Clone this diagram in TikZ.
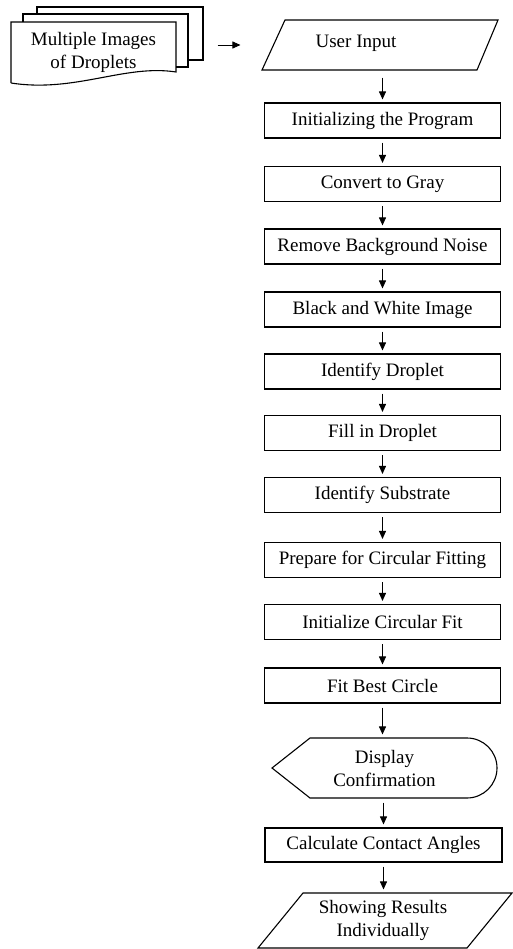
\documentclass[tikz,border=0pt]{standalone}
\usepackage{fontspec}
\setmainfont{Liberation Serif}
\usetikzlibrary{arrows.meta,calc}
\begin{document}
\begin{tikzpicture}[x=1pt,y=-1pt,
  line width=1.1pt,
  every node/.style={font=\fontsize{19}{23}\selectfont, inner sep=0pt, align=center},
  stepbox/.style={draw, minimum width=236.5pt, minimum height=35pt},
  flow/.style={-{Triangle[length=8pt,width=7pt]}, line width=0.9pt, shorten <=4pt, shorten >=3pt},
  hidden/.style={draw=none}
]
\useasboundingbox (0,0) rectangle (512,949);

% stack of document sheets
\draw (37,14) -- (37,7) -- (203,7) -- (203,60) -- (188,60);
\draw (23,22) -- (23,14) -- (188,14) -- (188,67) -- (176,67);
\draw (11,83) -- (11,22) -- (176,22) -- (176,72)
      .. controls (125,64) and (75,93) .. (11,83);
\node[hidden, minimum width=165pt, minimum height=61pt] (docs) at (93.5,52.5) {Multiple Images\\of Droplets};

% user input (parallelogram)
\draw (262,70) -- (285,20) -- (498,20) -- (477,70) -- cycle;
\node[hidden, minimum width=215pt, minimum height=50pt] (input) at (380,45) {};
\node at (356,43) {User Input};

% process steps
\node[stepbox] (init)  at (382.5,120.5) {Initializing the Program};
\node[stepbox] (gray)  at (382.5,184)   {Convert to Gray};
\node[stepbox] (noise) at (382.5,246.5) {Remove Background Noise};
\node[stepbox] (bw)    at (382.5,309.5) {Black and White Image};
\node[stepbox] (drop)  at (382.5,371.5) {Identify Droplet};
\node[stepbox] (fill)  at (382.5,433)   {Fill in Droplet};
\node[stepbox] (subs)  at (382.5,495)   {Identify Substrate};
\node[stepbox] (prep)  at (382.5,560)   {Prepare for Circular Fitting};
\node[stepbox] (cfit)  at (382.5,622)   {Initialize Circular Fit};
\node[stepbox] (best)  at (382.5,685.5) {Fit Best Circle};

% display shape
\draw (272,768) -- (310,738) -- (467,738) arc[start angle=-90, end angle=90, radius=30] -- (310,798) -- cycle;
\node[hidden, minimum width=225pt, minimum height=60pt] (disp) at (384.5,768) {Display\\Confirmation};

\node[stepbox, minimum width=237pt, minimum height=34pt] (calc) at (383.5,845) {Calculate Contact Angles};

% output (parallelogram)
\draw (258,948) -- (303,893) -- (512,893) -- (467,948) -- cycle;
\node[hidden, minimum width=209pt, minimum height=55pt] (out) at (383,920.5) {Showing Results\\Individually};

% connectors
\draw[flow, shorten <=41pt, shorten >=31.5pt] (docs.east |- input.west) -- (input.west);
\draw[flow, shorten <=7pt] (input.south -| init.north) -- (init.north);
\draw[flow] (init) -- (gray);
\draw[flow] (gray) -- (noise);
\draw[flow] (noise) -- (bw);
\draw[flow] (bw) -- (drop);
\draw[flow] (drop) -- (fill);
\draw[flow] (fill) -- (subs);
\draw[flow] (subs) -- (prep);
\draw[flow] (prep) -- (cfit);
\draw[flow] (cfit) -- (best);
\draw[flow] (best.south) -- (best.south |- disp.north);
\draw[flow] (disp.south -| calc.north) -- (calc.north);
\draw[flow] (calc.south) -- (calc.south |- out.north);
\end{tikzpicture}
\end{document}
